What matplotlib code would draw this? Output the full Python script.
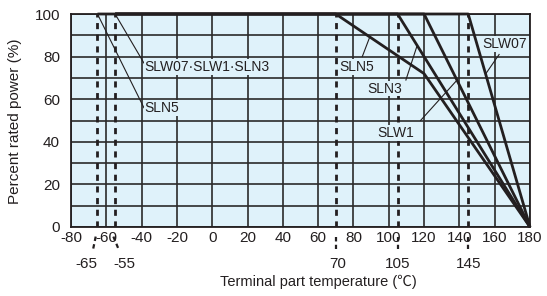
import matplotlib
matplotlib.use("Agg")
import matplotlib.pyplot as plt

# ---- data ----
x_ticks = [-80, -60, -40, -20, 0, 20, 40, 60, 80, 100, 120, 140, 160, 180]
y_ticks = [0, 20, 40, 60, 80, 100]
marker_temps = [-65, -55, 70, 105, 145]

sln5_t = [-65, 70, 120, 180]
sln5_p = [100, 100, 72, 0]
sln3_t = [-55, 105, 180]
sln3_p = [100, 100, 0]
slw1_t = [-55, 120, 180]
slw1_p = [100, 100, 0]
slw07_t = [-55, 145, 180]
slw07_p = [100, 100, 0]

BG = "#dff2fa"
INK = "#231f20"
FONT = ["Liberation Sans", "DejaVu Sans"]
plt.rcParams["font.family"] = FONT

fig = plt.figure(figsize=(5.47, 2.96), dpi=100)
ax = fig.add_axes([71/547, 1-227/296, (530-71)/547, (227-14)/296])
ax.set_facecolor(BG)
ax.set_xlim(-80, 180)
ax.set_ylim(0, 100)

# grid
for x in range(-80, 181, 20):
    ax.axvline(x, color="#2a2a2a", lw=1.2, zorder=1)
for y in range(0, 101, 10):
    ax.axhline(y, color="#2a2a2a", lw=1.2, zorder=1)

# dashed verticals
for t in marker_temps:
    ax.plot([t, t], [0, 100], color=INK, lw=2.0, ls=(0, (2.2, 2.0)), zorder=2)

# derating curves
for tx, py in [(sln5_t, sln5_p), (sln3_t, sln3_p), (slw1_t, slw1_p), (slw07_t, slw07_p)]:
    ax.plot(tx, py, color=INK, lw=2.0, zorder=3, solid_capstyle="butt", clip_on=False)

for s in ax.spines.values():
    s.set_color(INK)
    s.set_linewidth(1.3)

ax.set_xticks(x_ticks)
ax.set_xticklabels([str(v) for v in x_ticks])
ax.set_yticks(y_ticks)
ax.set_yticklabels([str(v) for v in y_ticks])
ax.tick_params(length=0, labelsize=11, colors=INK, pad=3)
ax.tick_params(axis="y", pad=8)

# second row labels with connectors
sub_pos = {-65: (-71.5, -66.0, -67.5), -55: (-49.5, -56.0, -53.0),
           70: (71, 70, 70), 105: (105, 105, 105), 145: (145, 145, 145)}
for t in marker_temps:
    lx, x0, x1 = sub_pos[t]
    ax.plot([x0, x1], [-4.5, -10.5], color=INK, lw=1.6, ls=(0, (2.0, 1.5)), clip_on=False)
    ax.text(lx, -17.5, str(t), ha="center", va="center", fontsize=11, color=INK)

# annotations
box = dict(facecolor=BG, edgecolor="none", pad=0.6)
def leader(tx, ty, lx, ly):
    ax.plot([lx, tx], [ly, ty], color=INK, lw=0.8, zorder=4)

FS = 10
leader(-55, 100, -38.7, 77)
ax.text(-38.3, 75, "SLW07·SLW1·SLN3", fontsize=FS, color=INK, va="center", ha="left", bbox=box, zorder=5)
leader(-65, 100, -38.7, 56)
ax.text(-38.3, 56, "SLN5", fontsize=FS, color=INK, va="center", ha="left", bbox=box, zorder=5)

leader(89, 88.7, 85, 80)
ax.text(81.7, 75, "SLN5", fontsize=FS, color=INK, va="center", ha="center", bbox=box, zorder=5)
leader(116, 85, 109.7, 69)
ax.text(97.5, 65, "SLN3", fontsize=FS, color=INK, va="center", ha="center", bbox=box, zorder=5)
leader(138.7, 69, 118, 50)
ax.text(104, 44, "SLW1", fontsize=FS, color=INK, va="center", ha="center", bbox=box, zorder=5)
leader(155, 72, 162.5, 81)
ax.text(165.7, 86, "SLW07", fontsize=FS, color=INK, va="center", ha="center", bbox=box, zorder=5)

fig.text(15/547, 1-121/296, "Percent rated power (%)", rotation=90, fontsize=11,
         color=INK, ha="center", va="center")
fig.text(318/547, 1-282/296, "Terminal part temperature (℃)", fontsize=10.5, color=INK,
         ha="center", va="center", family=["Liberation Sans", "Noto Sans CJK JP"])

fig.savefig("out.png", dpi=100, facecolor="white")
